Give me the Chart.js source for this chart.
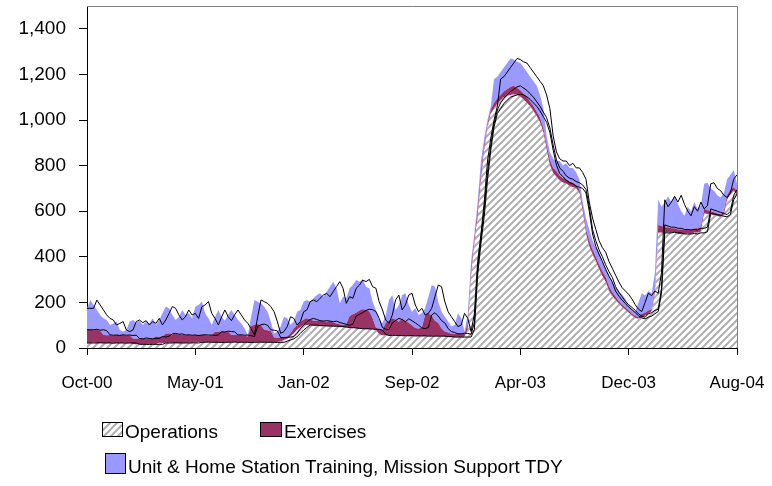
<!DOCTYPE html>
<html>
<head>
<meta charset="utf-8">
<script src="https://cdn.jsdelivr.net/npm/chart.js@4/dist/chart.umd.min.js"></script>
<style>
  html, body { margin: 0; padding: 0; background: #fff; }
  #wrap { position: relative; width: 772px; height: 486px; }
  #wrap canvas { position: absolute; left: 0; top: 0; }
  .key { position: absolute; font: 19px 'Liberation Sans', Arial, sans-serif; line-height: 19px; color: #000; white-space: nowrap; }
  .sw { position: absolute; box-sizing: border-box; border: 1px solid #000; }
</style>
</head>
<body>
<div id="wrap">
  <canvas id="chart" width="772" height="486"></canvas>
  <div class="sw" id="sw0" style="left:102px;top:422px;width:21px;height:15px"></div>
  <div class="key" id="key0" style="left:125px;top:422px"></div>
  <div class="sw" id="sw1" style="left:260px;top:422px;width:22px;height:15px"></div>
  <div class="key" id="key1" style="left:284px;top:422px"></div>
  <div class="sw" id="sw2" style="left:105px;top:453px;width:21px;height:21px"></div>
  <div class="key" id="key2" style="left:128px;top:457px"></div>
</div>
<script>
const $ = id => document.getElementById(id);

// weekly points, Oct-00 .. Aug-04; one axis label every 33 weeks
const tickEvery = 33;
const tickLabels = ['Oct-00', 'May-01', 'Jan-02', 'Sep-02', 'Apr-03', 'Dec-03', 'Aug-04'];
const seriesNames = ['Operations', 'Exercises', 'Unit & Home Station Training, Mission Support TDY'];

const operations = [
  22, 22, 23, 22, 22, 22, 21, 22, 22, 22, 21, 22, 22, 22,
  16, 16, 16, 15, 16, 16, 16, 16,
  22, 22, 22, 23, 22, 22, 22, 22, 22, 23, 22,
  25, 25, 26, 25, 25, 25, 24, 25, 25, 25, 26, 25, 25, 25, 25, 24, 25, 25, 26, 25, 25, 25, 25, 24, 25, 25,
  30, 35, 40, 50, 64, 79, 90, 101,
  100, 100, 98, 98, 97, 96, 96, 95, 95, 94, 92, 90, 90,
  88, 86, 85, 84, 84, 83, 82, 82, 78, 60,
  55, 55, 55, 55, 54, 54, 54, 54, 53, 53,
  53, 53, 52, 52, 52, 52, 52, 52, 50, 50,
  48, 48, 48, 48, 48, 48, 80,
  320, 459, 577,
  737, 868, 970, 1028, 1050, 1072, 1087, 1100, 1105, 1110,
  1113, 1110, 1102, 1090, 1075, 1060, 1040, 1015, 990, 945,
  868, 802, 766, 751, 735, 725, 720, 710,
  705, 700, 680, 600, 500, 445, 410, 380, 345, 315,
  290, 250, 228, 210, 195, 180, 168, 155, 142, 132,
  128, 135, 140, 150, 160, 240, 505, 505, 505, 508,
  505, 505, 500, 500, 500, 502, 500, 505, 505, 510,
  590, 588, 585, 582, 578, 575, 585, 650, 675, 690, 670
];

const exercises = [
  58, 60, 55, 58, 54, 36, 35, 35, 33, 36, 35, 35, 33, 34,
  26, 24, 28, 27, 24, 27, 26, 34,
  26, 30, 40, 41, 38, 40, 35, 36, 34, 34, 33,
  32, 33, 31, 32, 30, 32, 47, 45, 49, 47, 45, 32, 33, 31, 32, 30, 25, 70, 76, 80, 75, 55, 53, 51, 21, 20,
  17, 13, 10, 15, 21, 21, 25, 24,
  30, 25, 22, 20, 23, 22, 19, 23, 17, 14, 12, 10, 15,
  52, 62, 70, 81, 86, 85, 78, 48, 12, 22,
  25, 55, 65, 75, 71, 61, 74, 66, 57, 47,
  35, 32, 38, 93, 103, 88, 68, 58, 35, 22,
  20, 14, 14, 17, 16, 12, 30,
  30, 21, 33,
  33, 22, 15, 17, 25, 23, 23, 25, 30, 35,
  37, 30, 28, 25, 25, 20, 20, 20, 20, 20,
  22, 23, 24, 24, 20, 20, 20, 20,
  20, 15, 15, 20, 20, 25, 20, 20, 20, 20,
  20, 20, 17, 15, 10, 10, 10, 10, 8, 8,
  7, 15, 15, 15, 10, 20, 35, 30, 25, 22,
  20, 20, 20, 20, 18, 18, 18, 20, 20, 20,
  20, 17, 15, 13, 12, 10, 15, 20, 20, 15, 20
];

const training = [
  94, 128, 111, 87, 69, 72, 67, 44, 53, 58, 23, 15, 24, 60,
  81, 71, 76, 59, 76, 65, 88, 51,
  75, 100, 120, 110, 85, 61, 80, 109, 89, 95, 75,
  124, 131, 147, 95, 75, 44, 65,
  97, 63, 48, 75, 110, 87, 67, 51, 31, 7,
  42, 109, 98, 96, 101, 81, 40, 18, 27, 47,
  89, 80, 36, 31, 59, 52, 78,
  81, 78, 98,
  114, 120, 107, 132, 151, 179, 154, 92, 125, 113,
  122, 128, 143, 126, 131, 101, 102, 73, 77, 41,
  28, 35, 91, 102, 42, 74, 104, 120, 79, 59,
  86, 60, 62, 29, 70, 136, 149, 93, 74, 65,
  48, 32, 39, 87, 66, 12, 40,
  30, 20, 30,
  50, 30, 15, 15, 105, 95, 100, 105, 115, 125,
  115, 115, 120, 115, 110, 110, 110, 115, 100, 85,
  40, 35, 40, 45, 65, 55, 70, 60,
  65, 55, 45, 20, 50, 50, 40, 40, 55, 45,
  40, 50, 45, 40, 45, 45, 37, 25, 20, 20,
  65, 90, 75, 85, 70, 70, 110, 85, 110, 135,
  115, 145, 110, 80, 62, 100, 82, 115, 85, 95,
  110, 120, 100, 95, 80, 75, 80, 70, 65, 75, 30
];

// the black outline series run the same stacked totals, two weeks behind
const lineLag = 2;

const weeks = operations.map((_, i) => i);
const layers = [operations, exercises, training];
const laggedTop = (i, n) => {
  const j = Math.max(0, i - lineLag);
  let s = 0;
  for (let k = 0; k < n; k++) s += layers[k][j];
  return s;
};

function hatchTile() {
  const t = document.createElement('canvas');
  t.width = t.height = 7;
  const g = t.getContext('2d');
  g.fillStyle = '#fff';
  g.fillRect(0, 0, 7, 7);
  g.strokeStyle = '#b0b0b0';
  g.lineWidth = 2;
  g.beginPath();
  g.moveTo(-1, 8); g.lineTo(8, -1);
  g.moveTo(-1, 1); g.lineTo(1, -1);
  g.moveTo(6, 8); g.lineTo(8, 6);
  g.stroke();
  return t;
}

const tile = hatchTile();
const ctx = $('chart').getContext('2d');
const hatch = ctx.createPattern(tile, 'repeat');

// legend (html)
$('sw0').style.background = 'url(' + tile.toDataURL() + ')';
$('sw1').style.background = '#993366';
$('sw2').style.background = '#9999ff';
seriesNames.forEach((n, i) => { $('key' + i).textContent = n; });

const FONT = "'Liberation Sans', Arial, sans-serif";

const frame = {
  id: 'frame',
  afterDraw(c) {
    const a = c.chartArea, g = c.ctx;
    g.save();
    g.strokeStyle = '#808080';
    g.lineWidth = 1;
    g.beginPath();
    g.moveTo(a.left, Math.floor(a.top) + 0.5);
    g.lineTo(Math.floor(a.right) + 0.5, Math.floor(a.top) + 0.5);
    g.lineTo(Math.floor(a.right) + 0.5, a.bottom);
    g.stroke();
    g.restore();
  }
};

const areaBase = { stack: 'areas', pointRadius: 0, borderWidth: 0, borderColor: 'transparent', tension: 0, order: 2 };

const datasets = [
  { ...areaBase, label: seriesNames[0], data: operations, fill: 'origin', backgroundColor: hatch,
    borderWidth: 1, borderColor: 'rgba(200,140,200,0.7)', borderDash: [3, 3] },
  { ...areaBase, label: seriesNames[1], data: exercises, fill: '-1', backgroundColor: '#993366' },
  { ...areaBase, label: seriesNames[2], data: training, fill: '-1', backgroundColor: '#9999ff' }
];
for (let n = 1; n <= 3; n++) {
  datasets.push({
    label: 'outline ' + n,
    data: weeks.map(i => laggedTop(i, n)),
    stack: 'line' + n,
    fill: false,
    borderColor: '#000',
    borderWidth: 1,
    pointRadius: 0,
    tension: 0,
    order: 1
  });
}

new Chart(ctx, {
  type: 'line',
  data: { labels: weeks, datasets },
  options: {
    responsive: false,
    animation: false,
    devicePixelRatio: 1,
    layout: { padding: { left: 0, right: 35, top: 6, bottom: 0 } },
    plugins: { legend: { display: false }, tooltip: { enabled: false } },
    scales: {
      x: {
        type: 'category',
        offset: false,
        afterBuildTicks: s => { s.ticks = s.ticks.filter(t => t.value % tickEvery === 0); },
        afterFit: s => { s.height = 138; s.paddingLeft = 0; s.paddingRight = 0; },
        ticks: {
          autoSkip: false, maxRotation: 0, minRotation: 0, color: '#000', padding: 18,
          font: { family: FONT, size: 17 },
          callback: v => tickLabels[v / tickEvery]
        },
        grid: { drawOnChartArea: false, color: '#000', tickLength: 7 },
        border: { color: '#000', width: 1 }
      },
      y: {
        stacked: true,
        min: 0,
        max: 1500,
        afterFit: s => { s.width = 87; s.paddingTop = 0; s.paddingBottom = 0; },
        ticks: {
          stepSize: 200, includeBounds: false, color: '#000', padding: 13,
          font: { family: FONT, size: 19 },
          callback: v => v.toLocaleString('en-US')
        },
        grid: { drawOnChartArea: false, color: '#000', tickLength: 8 },
        border: { color: '#000', width: 1 }
      }
    }
  },
  plugins: [frame]
});
</script>
</body>
</html>
